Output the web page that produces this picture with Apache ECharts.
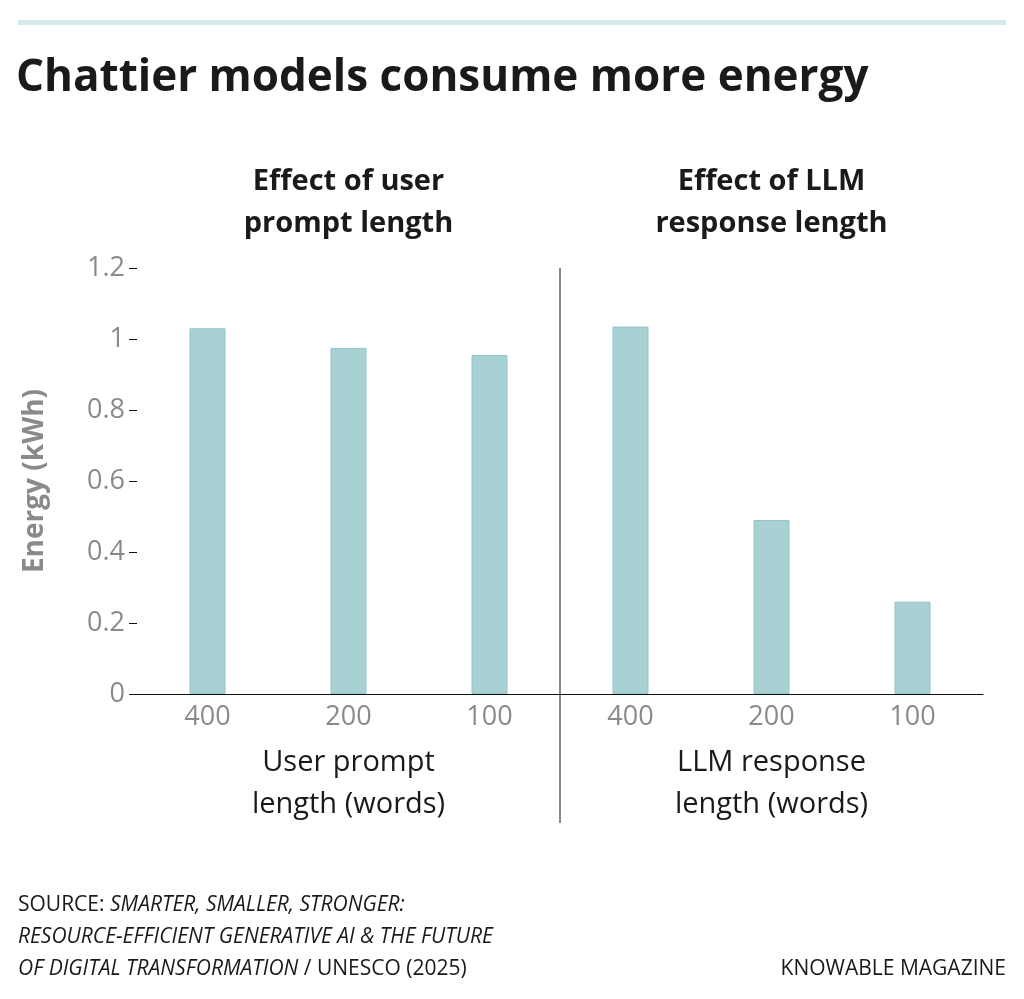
<!DOCTYPE html>
<html>
<head>
<meta charset="utf-8">
<script src="https://cdn.jsdelivr.net/npm/echarts@6/dist/echarts.min.js"></script>
<style>
  html, body { margin: 0; padding: 0; background: #ffffff; }
  #chart { width: 1024px; height: 999px; }
</style>
</head>
<body>
<div id="chart"></div>
<script>
// categories: three prompt lengths, then three response lengths
var categories = ['400', '200', '100', '400 ', '200 ', '100 '];
var energyValues = [1.03, 0.975, 0.955, 1.035, 0.49, 0.26];
var yTicks = [0, 0.2, 0.4, 0.6, 0.8, 1, 1.2];

var chart = echarts.init(document.getElementById('chart'));
var FONT = '"Open Sans", Lato, sans-serif';

var option = {
    backgroundColor: '#ffffff',
    animation: false,
    grid: { left: 137, right: 41, top: 268, bottom: 305 },
    xAxis: {
        type: 'category',
        data: categories,
        axisLine: { lineStyle: { color: '#111111', width: 1 } },
        axisTick: { show: false },
        axisLabel: {
            color: '#8a8a8a', fontSize: 27, fontFamily: FONT, margin: 10,
            formatter: function (v) { return v.trim(); }
        }
    },
    yAxis: {
        type: 'value',
        min: 0, max: 1.2, interval: 0.2,
        splitLine: { show: false },
        axisLine: { show: false },
        axisTick: { show: true, length: 8, lineStyle: { color: '#111111' } },
        axisLabel: {
            color: '#8a8a8a', fontSize: 27, fontFamily: FONT, margin: 12,
            formatter: function (v) { return yTicks.indexOf(Math.round(v * 10) / 10) >= 0 ? String(Math.round(v * 10) / 10) : ''; }
        },
        name: 'Energy (kWh)',
        nameLocation: 'middle',
        nameGap: 88,
        nameTextStyle: { color: '#8a8a8a', fontSize: 28, fontWeight: 'bold', fontFamily: FONT }
    },
    series: [{
        type: 'bar',
        data: energyValues,
        barWidth: 36,
        itemStyle: { color: '#a8d1d4', borderColor: '#93c3c7', borderWidth: 1 }
    }]
};
chart.setOption(option);

// divider between the two panels, placed via the axis scale
var midX = (chart.convertToPixel({xAxisIndex: 0}, categories[2]) + chart.convertToPixel({xAxisIndex: 0}, categories[3])) / 2;
var centerL = chart.convertToPixel({xAxisIndex: 0}, categories[1]);
var centerR = chart.convertToPixel({xAxisIndex: 0}, categories[4]);
var topY = chart.convertToPixel({yAxisIndex: 0}, 1.2);

function txt(x, y, s, size, weight, align, color, style) {
    return {
        type: 'text', x: x, y: y,
        style: {
            text: s, fill: color || '#1a1a1a', fontSize: size, fontWeight: weight || 'normal',
            fontStyle: style || 'normal', fontFamily: FONT, align: align || 'center', verticalAlign: 'middle'
        }
    };
}

chart.setOption({
    graphic: [
        { type: 'rect', shape: { x: 18, y: 20, width: 988, height: 5 }, style: { fill: '#d3e9ea' } },
        txt(16, 78, 'Chattier models consume more energy', 44, 'bold', 'left', '#1a1a1a'),
        txt(centerL, 182, 'Effect of user', 29, 'bold'),
        txt(centerL, 224, 'prompt length', 29, 'bold'),
        txt(centerR, 182, 'Effect of LLM', 29, 'bold'),
        txt(centerR, 224, 'response length', 29, 'bold'),
        { type: 'line', shape: { x1: midX, y1: topY, x2: midX, y2: 823 }, style: { stroke: '#111111', lineWidth: 1 } },
        txt(centerL, 763, 'User prompt', 29),
        txt(centerL, 805, 'length (words)', 29),
        txt(centerR, 763, 'LLM response', 29),
        txt(centerR, 805, 'length (words)', 29),
        {
            type: 'text', x: 18, y: 905,
            style: {
                text: '{n|SOURCE: }{i|SMARTER, SMALLER, STRONGER:}', fontFamily: FONT, verticalAlign: 'middle',
                rich: { n: { fontSize: 21, fill: '#1a1a1a', fontFamily: FONT }, i: { fontSize: 21, fill: '#1a1a1a', fontStyle: 'italic', fontFamily: FONT } }
            }
        },
        txt(18, 937, 'RESOURCE-EFFICIENT GENERATIVE AI & THE FUTURE', 21, 'normal', 'left', '#1a1a1a', 'italic'),
        {
            type: 'text', x: 18, y: 969,
            style: {
                text: '{i|OF DIGITAL TRANSFORMATION}{n| / UNESCO (2025)}', fontFamily: FONT, verticalAlign: 'middle',
                rich: { n: { fontSize: 21, fill: '#1a1a1a', fontFamily: FONT }, i: { fontSize: 21, fill: '#1a1a1a', fontStyle: 'italic', fontFamily: FONT } }
            }
        },
        txt(1006, 969, 'KNOWABLE MAGAZINE', 21, 'normal', 'right', '#1a1a1a')
    ]
});
</script>
</body>
</html>
